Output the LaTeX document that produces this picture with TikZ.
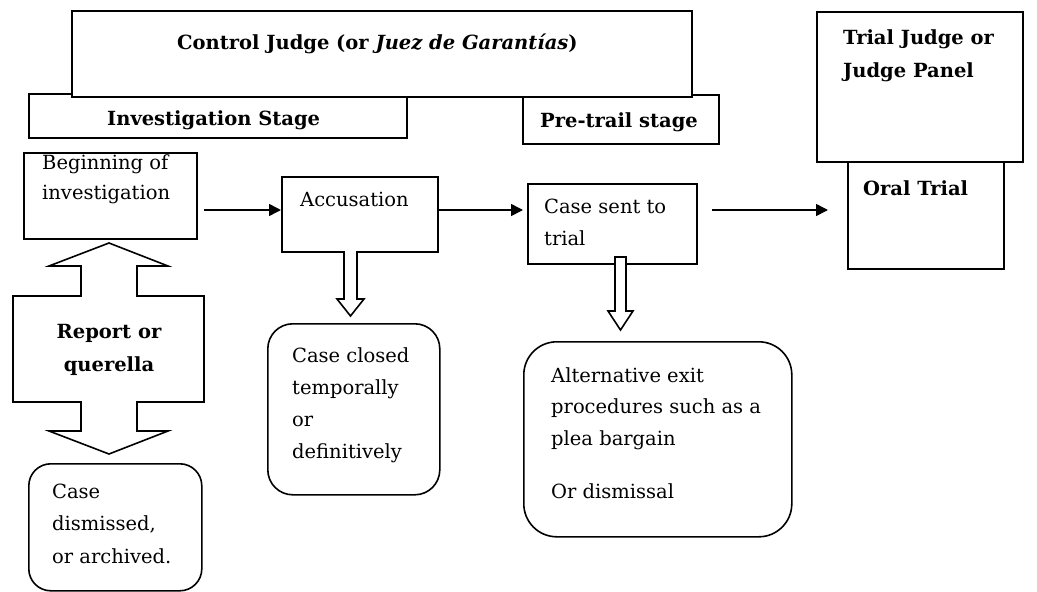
\documentclass[tikz,border=0pt]{standalone}
\usepackage{fontspec}
\setmainfont{DejaVu Serif}
\usetikzlibrary{arrows.meta}
\begin{document}
\begin{tikzpicture}[x=1pt,y=-1pt,
  box/.style={draw, line width=1.6pt, fill=white, inner sep=0pt, anchor=north west},
  rbox/.style={box, rounded corners=22pt},
  txt/.style={inner sep=0pt, anchor=base west, align=left, font=\fontsize{19.5}{31.5}\selectfont},
  head/.style={inner sep=0pt, anchor=base west, align=left, font=\fontsize{19.5}{33}\selectfont\bfseries},
  arr/.style={line width=1.6pt, -{Triangle[length=12pt,width=12pt]}},
  blk/.style={draw, line width=1.6pt, fill=white, line join=miter}]
\useasboundingbox (0,0) rectangle (1037,592);
% stage boxes
\node[box, minimum width=378pt, minimum height=44pt] (inv) at (28,93) {};
\node[box, minimum width=196pt, minimum height=49pt] (pre) at (522,94) {};
\node[box, minimum width=620pt, minimum height=86pt] (ctrl) at (71,10) {};
\node[box, minimum width=206pt, minimum height=150pt] (trial) at (816,11) {};
\node[box, minimum width=156pt, minimum height=107pt] (oral) at (847,161) {};
% process boxes
\node[box, minimum width=173pt, minimum height=86pt] (begin) at (23,152) {};
\node[box, minimum width=156pt, minimum height=75pt] (acc) at (281,176) {};
\node[box, minimum width=169pt, minimum height=80pt] (sent) at (527,183) {};
\node[rbox, minimum width=173pt, minimum height=127pt] (dism) at (28,463) {};
\node[rbox, rounded corners=25pt, minimum width=172pt, minimum height=171pt] (closed) at (267,323) {};
\node[rbox, rounded corners=33pt, minimum width=268pt, minimum height=195pt] (alt) at (523,341) {};
% texts (base anchor = baseline of the last line)
\node[head] (ctrlt) at (177,49) {Control Judge (or \textit{Juez de Garantías})};
\begin{scope}
\clip (28,93) rectangle (406,129);
\node[head] (invt) at (107,125) {Investigation Stage};
\end{scope}
\begin{scope}
\clip (522,94) rectangle (718,133);
\node[head] (pret) at (540,127) {Pre-trail stage};
\end{scope}
\node[head] (trialt) at (843,77) {Trial Judge or\\Judge Panel};
\node[head] (oralt) at (863,195) {Oral Trial};
\node[txt, font=\fontsize{19.5}{30}\selectfont] (begint) at (42,199) {Beginning of\\investigation};
\node[txt] (acct) at (300,206) {Accusation};
\node[txt, font=\fontsize{19.5}{32}\selectfont] (sentt) at (544,245) {Case sent to\\trial};
\node[txt, font=\fontsize{19.5}{32}\selectfont] (closedt) at (292,458) {Case closed\\temporally\\or\\definitively};
\node[txt, font=\fontsize{19.5}{32.5}\selectfont] (dismt) at (52,563) {Case\\dismissed,\\or archived.};
\node[txt] (altt) at (551,498) {Alternative exit\\procedures such as a\\plea bargain\\[21.5pt]Or dismissal};
% block arrow report
\draw[blk] (109,243) -- (168,266) -- (137,266) -- (137,296) -- (204,296) -- (204,402)
  -- (137,402) -- (137,431) -- (168,431) -- (109,454) -- (49,431) -- (81,431) -- (81,402)
  -- (13,402) -- (13,296) -- (81,296) -- (81,266) -- (49,266) -- cycle;
\node[head, anchor=base, align=center, font=\fontsize{19.5}{32.5}\selectfont\bfseries] (rep) at (109,371) {Report or\\querella};
% down block arrows
\draw[blk] (344,251) -- (344,299) -- (337,299) -- (350.5,316) -- (364,299) -- (357,299) -- (357,251);
\draw[blk] (615,257) -- (615,311) -- (608,311) -- (620.5,330) -- (633,311) -- (626,311) -- (626,257) -- cycle;
% connectors
\coordinate (a1) at (204,210);
\coordinate (a2) at (437,210);
\coordinate (a3) at (712,210);
\coordinate (a3e) at (828,210);
\draw[arr] (a1) -- (a1 -| acc.west);
\draw[arr, shorten >=4pt] (a2) -- (a2 -| sent.west);
\draw[arr] (a3) -- (a3e);
\end{tikzpicture}
\end{document}
